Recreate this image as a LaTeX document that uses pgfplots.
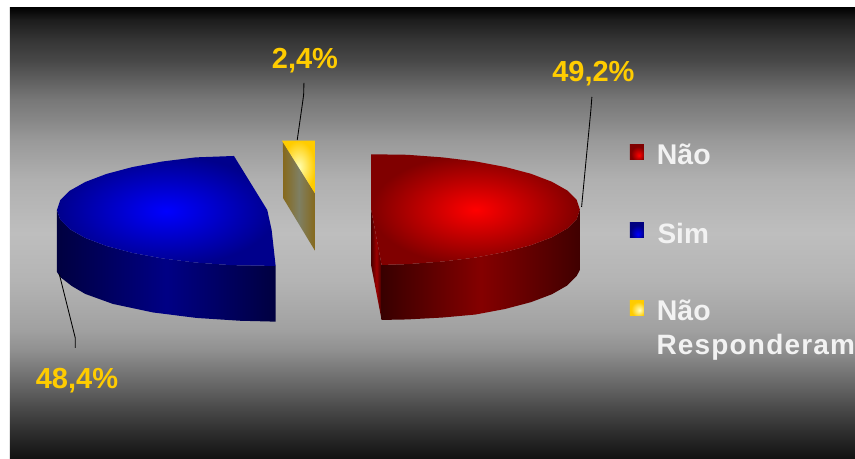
\documentclass[border=0pt]{standalone}
\usepackage{fontspec}
\setmainfont{Liberation Sans}
\usepackage{pgfplots}
\pgfplotsset{compat=1.18}

\definecolor{labelgold}{HTML}{FFCC00}
\definecolor{goldedge}{HTML}{86691C}
\definecolor{goldmid}{HTML}{7F7F62}

% Backdrop: black at both edges, light grey through the middle
\pgfdeclareverticalshading{backdrop}{100bp}{%
  rgb(0bp)=(0.065,0.065,0.065);
  rgb(25bp)=(0.065,0.065,0.065);
  rgb(28.2bp)=(0.19,0.19,0.19);
  rgb(30.4bp)=(0.28,0.28,0.28);
  rgb(32.6bp)=(0.376,0.376,0.376);
  rgb(34.85bp)=(0.47,0.47,0.47);
  rgb(37.05bp)=(0.565,0.565,0.565);
  rgb(39.3bp)=(0.63,0.63,0.63);
  rgb(44.8bp)=(0.706,0.706,0.706);
  rgb(50bp)=(0.745,0.745,0.745);
  rgb(55.9bp)=(0.69,0.69,0.69);
  rgb(60.3bp)=(0.60,0.60,0.60);
  rgb(62.5bp)=(0.53,0.53,0.53);
  rgb(64.7bp)=(0.47,0.47,0.47);
  rgb(66.9bp)=(0.376,0.376,0.376);
  rgb(69.1bp)=(0.28,0.28,0.28);
  rgb(71.3bp)=(0.21,0.21,0.21);
  rgb(73.6bp)=(0.11,0.11,0.11);
  rgb(75bp)=(0,0,0);
  rgb(100bp)=(0,0,0)}

% Key swatches have their bright spot low and to the right
\pgfdeclareradialshading{keyred}{\pgfpoint{8bp}{-10bp}}{%
  rgb(0bp)=(1,0,0); rgb(25bp)=(0.5,0,0); rgb(50bp)=(0.5,0,0)}
\pgfdeclareradialshading{keyblue}{\pgfpoint{4bp}{-14bp}}{%
  rgb(0bp)=(0,0,1); rgb(25bp)=(0,0,0.5); rgb(50bp)=(0,0,0.5)}
\pgfdeclareradialshading{keygold}{\pgfpoint{10bp}{-6bp}}{%
  rgb(0bp)=(1,1,0.75); rgb(25bp)=(1,0.8,0); rgb(50bp)=(1,0.8,0)}

\begin{document}
\begin{tikzpicture}
\begin{axis}[
  scale only axis, width=855pt, height=459pt,
  xmin=0, xmax=855, ymin=0, ymax=459, y dir=reverse,
  hide axis, clip=false, no markers,
  every axis plot/.append style={draw=none, line width=0pt},
]
% page ground and backdrop
\addplot[fill=white] coordinates {(0,0)(855,0)(855,459)(0,459)} --cycle;
\addplot[shading=backdrop] coordinates {(10,7)(855,7)(855,459)(10,459)} --cycle;

% Sim: rim, then top face
\addplot[left color=blue!25!black, right color=blue!25!black, middle color=blue!52!black]
  coordinates {(57,210)(60.2,219.7)(69.7,229.2)(85.3,238)(106.4,246)(132.4,252.9)(162.5,258.5)
  (195.8,262.6)(231.4,265.2)(275.7,266)(275.7,321.7)(240,320.8)(196.7,318)(153,312.5)(113,304)
  (85.3,294)(71.7,286)(60.2,277)(57,272)} --cycle;
\addplot[inner color=blue, outer color=blue!55!black]
  coordinates {(234,156)(195.8,157.4)(162.5,161.5)(132.4,167.1)(106.4,174)(85.3,182)(69.7,190.8)
  (60.2,200.3)(57,210)(60.2,219.7)(69.7,229.2)(85.3,238)(106.4,246)(132.4,252.9)(162.5,258.5)
  (195.8,262.6)(231.4,265.2)(275.7,266)(271.7,230)(267.3,210)} --cycle;

% Não Responderam: rim, then top face
\addplot[left color=goldedge, right color=goldedge, middle color=goldmid]
  coordinates {(283,142)(315,193.3)(315,250.7)(283.3,198.3)} --cycle;
\addplot[inner color=yellow!30!white, outer color=labelgold]
  coordinates {(282,140.7)(315,140.7)(315,193.3)} --cycle;

% Não: cut face, rim, then top face
\addplot[left color=red!30!black, right color=red!25!black, middle color=red!62!black]
  coordinates {(371.3,210)(381.7,265)(381.7,320)(371.3,266)} --cycle;
\addplot[left color=red!22!black, right color=red!25!black, middle color=red!52!black]
  coordinates {(381.7,265)(407.3,264.2)(442.5,261.6)(475.5,257.6)(505.3,252)(531.1,245.2)(552,237.3)
  (567.4,228.5)(576.8,219.1)(580,209.5)(580,270)(576.8,276)(567.4,285.5)(552,294.3)(531.1,302.2)
  (505.3,309)(475.5,314.6)(442.5,317.6)(407.3,319.5)(381.7,320)} --cycle;
\addplot[inner color=red, outer color=red!50!black]
  coordinates {(371.3,154.3)(407.3,154.8)(442.5,157.4)(475.5,161.4)(505.3,167)(531.1,173.8)(552,181.8)
  (567.4,190.5)(576.8,199.9)(580,209.5)(576.8,219.1)(567.4,228.5)(552,237.3)(531.1,245.2)(505.3,252)
  (475.5,257.6)(442.5,261.6)(407.3,264.2)(381.7,265)(371.3,210)} --cycle;

% Leader lines
\addplot[draw=black, line width=0.85pt] coordinates {(304,83)(303.7,95)(297.3,140)};
\addplot[draw=black, line width=0.85pt] coordinates {(592,97)(591,110)(581.7,207)};
\addplot[draw=black, line width=0.85pt] coordinates {(59.3,274)(75.3,338)(75.3,348)};

% Key swatches
\addplot[shading=keyred] coordinates {(630,145)(644,145)(644,160)(630,160)} --cycle;
\addplot[shading=keyblue] coordinates {(630,223)(644,223)(644,238)(630,238)} --cycle;
\addplot[shading=keygold] coordinates {(630,301)(644,301)(644,316)(630,316)} --cycle;

% Share labels
\begin{scope}[every node/.style={font=\fontsize{29}{30}\selectfont\bfseries, text=labelgold, anchor=base, inner sep=0pt}]
\node at (axis cs:305,68.5) {2,4\%};
\node at (axis cs:593.5,81.5) {49,2\%};
\node at (axis cs:77,389) {48,4\%};
\end{scope}

% Key entries
\begin{scope}[every node/.style={font=\fontsize{28.5}{30}\selectfont\bfseries, text=white!95!black, anchor=base west, inner sep=0pt}]
\node at (axis cs:656.8,165) {Não};
\node[font=\fontsize{28}{30}\selectfont\bfseries] at (axis cs:657.5,243.3) {Sim};
\node at (axis cs:656.8,320.7) {Não};
\node[font=\fontsize{28}{30}\selectfont\bfseries\addfontfeature{LetterSpace=4.2}] at (axis cs:656.5,355) {Responderam};
\end{scope}
\end{axis}
\end{tikzpicture}
\end{document}
